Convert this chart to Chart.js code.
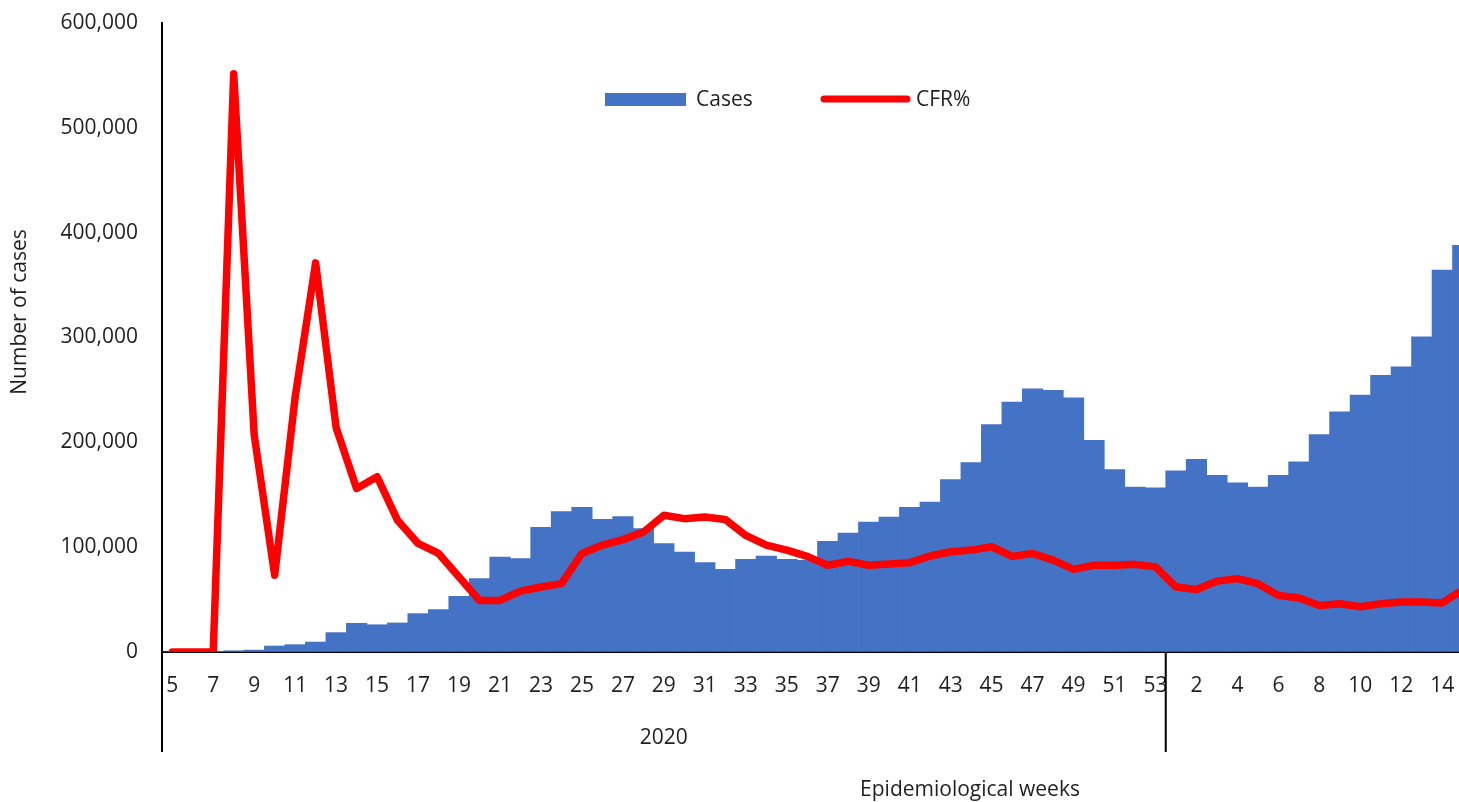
<html>
<head>
<title>Cases and CFR by epidemiological week</title>
<style type="text/css">
body {
	margin: 0;
	overflow: hidden;
	background: #fff;
}
canvas {
	display: block;
}
</style>
<script src="https://cdn.jsdelivr.net/npm/chart.js"></script>
<script>
// weeks of 2020, then of 2021
const weeks2020 = [5, 6, 7, 8, 9, 10, 11, 12, 13, 14, 15, 16, 17, 18, 19, 20, 21, 22, 23, 24, 25, 26, 27, 28, 29,
	30, 31, 32, 33, 34, 35, 36, 37, 38, 39, 40, 41, 42, 43, 44, 45, 46, 47, 48, 49, 50, 51, 52, 53];
const weeks2021 = [1, 2, 3, 4, 5, 6, 7, 8, 9, 10, 11, 12, 13, 14, 15];

// weekly cases
const cases2020 = [0, 0, 200, 1200, 1800, 5700, 7000, 9500, 18500, 27400, 26000, 27700, 36600, 40500, 53000,
	70000, 90600, 89000, 119000, 134000, 138000, 126600, 129200, 117700, 103400, 95400, 85300, 78900, 88500,
	91600, 88500, 87500, 105600, 113500, 124000, 128800, 138000, 143100, 164500, 180700, 217000, 238500,
	251000, 249700, 242400, 202000, 174000, 157400, 156500];
const cases2021 = [172700, 183900, 168600, 161300, 157400, 168600, 181300, 207400, 229000, 245000, 264000,
	272000, 300600, 364200, 388000];

// case fatality ratio, %
const cfr2020 = [0, 0, 0, 13.79, 5.18, 1.83, 6.08, 9.28, 5.35, 3.9, 4.18, 3.14, 2.59, 2.35, 1.79, 1.23, 1.23,
	1.45, 1.55, 1.63, 2.35, 2.55, 2.68, 2.86, 3.26, 3.18, 3.22, 3.16, 2.78, 2.55, 2.43, 2.28, 2.07, 2.16, 2.07,
	2.10, 2.13, 2.29, 2.39, 2.43, 2.51, 2.28, 2.35, 2.19, 1.97, 2.07, 2.07, 2.09, 2.03];
const cfr2021 = [1.55, 1.49, 1.69, 1.75, 1.63, 1.35, 1.29, 1.11, 1.15, 1.08, 1.15, 1.19, 1.19, 1.17, 1.48];

const yTicks = [0, 100000, 200000, 300000, 400000, 500000, 600000];

const FONT = "'Open Sans', sans-serif";
const TXT = '#1f1f1f';

// extra lines and texts that Chart.js has no option for
const extras = {
	id: 'extras',
	afterDraw(chart) {
		const ctx = chart.ctx,
			area = chart.chartArea,
			xs = chart.scales.x;
		const sep = (xs.getPixelForValue(weeks2020.length - 1) + xs.getPixelForValue(weeks2020.length)) / 2;
		ctx.save();
		ctx.strokeStyle = '#000';
		ctx.lineWidth = 2;
		ctx.beginPath();
		ctx.moveTo(area.left, area.bottom);
		ctx.lineTo(area.left, area.bottom + 100);
		ctx.moveTo(sep, area.bottom);
		ctx.lineTo(sep, area.bottom + 100);
		ctx.stroke();

		ctx.fillStyle = TXT;
		ctx.font = '21px ' + FONT;
		ctx.textAlign = 'center';
		ctx.textBaseline = 'middle';
		ctx.fillText('2020', (area.left + sep) / 2, area.bottom + 86);
		ctx.fillText('Epidemiological weeks', 970, 790);

		ctx.save();
		ctx.translate(20, 312);
		ctx.rotate(-Math.PI / 2);
		ctx.fillText('Number of cases', 0, 0);
		ctx.restore();

		// legend
		ctx.textAlign = 'left';
		ctx.fillStyle = '#4472c4';
		ctx.fillRect(605, 93, 81, 13);
		ctx.fillStyle = TXT;
		ctx.fillText('Cases', 696, 100);
		ctx.strokeStyle = '#ff0000';
		ctx.lineWidth = 7;
		ctx.lineCap = 'round';
		ctx.beginPath();
		ctx.moveTo(824, 99);
		ctx.lineTo(907, 99);
		ctx.stroke();
		ctx.fillText('CFR%', 916, 100);
		ctx.restore();
	}
};

function load()
{
	const labels = weeks2020.concat(weeks2021).map(String);
	const cases = cases2020.concat(cases2021);
	const cfr = cfr2020.concat(cfr2021);

	new Chart(document.getElementById('chart'), {
		data: {
			labels: labels,
			datasets: [{
				type: 'line',
				label: 'CFR%',
				data: cfr,
				yAxisID: 'y1',
				borderColor: '#ff0000',
				backgroundColor: '#ff0000',
				borderWidth: 7.5,
				borderJoinStyle: 'round',
				borderCapStyle: 'round',
				pointRadius: 0,
				tension: 0,
				order: 0
			},
			{
				type: 'bar',
				label: 'Cases',
				data: cases,
				yAxisID: 'y',
				backgroundColor: '#4472c4',
				borderWidth: 0,
				categoryPercentage: 1,
				barPercentage: 1,
				order: 1
			}]
		},
		options: {
			responsive: false,
			animation: false,
			layout: { padding: { left: 0, top: 23, right: 27, bottom: 0 } },
			plugins: {
				legend: { display: false },
				tooltip: { enabled: false }
			},
			scales: {
				x: {
					grid: { display: false, drawTicks: false },
					border: { color: '#000', width: 2 },
					ticks: {
						autoSkip: false,
						maxRotation: 0,
						padding: 21,
						color: TXT,
						font: { family: FONT, size: 21 },
						callback: (v, i) => (i % 2 === 0 ? labels[i] : '')
					},
					afterFit: (s) => { s.height = 150; }
				},
				y: {
					min: 0,
					max: 600000,
					// invisible tick marks keep the labels away from the axis
					grid: { display: true, drawOnChartArea: false, color: 'rgba(0,0,0,0)', drawTicks: true, tickLength: 24 },
					border: { color: '#000', width: 2 },
					afterBuildTicks: (s) => { s.ticks = yTicks.map(v => ({ value: v })); },
					ticks: {
						padding: 0,
						color: TXT,
						font: { family: FONT, size: 21 },
						callback: (v) => Number(v).toLocaleString('en-US')
					},
					afterFit: (s) => { s.width = 162; }
				},
				y1: {
					display: false,
					position: 'right',
					min: 0,
					max: 15
				}
			}
		},
		plugins: [extras]
	});
}
</script>
</head>
<body onload='load();'>
<canvas id="chart" width="1500" height="802"></canvas>
</body>
</html>
